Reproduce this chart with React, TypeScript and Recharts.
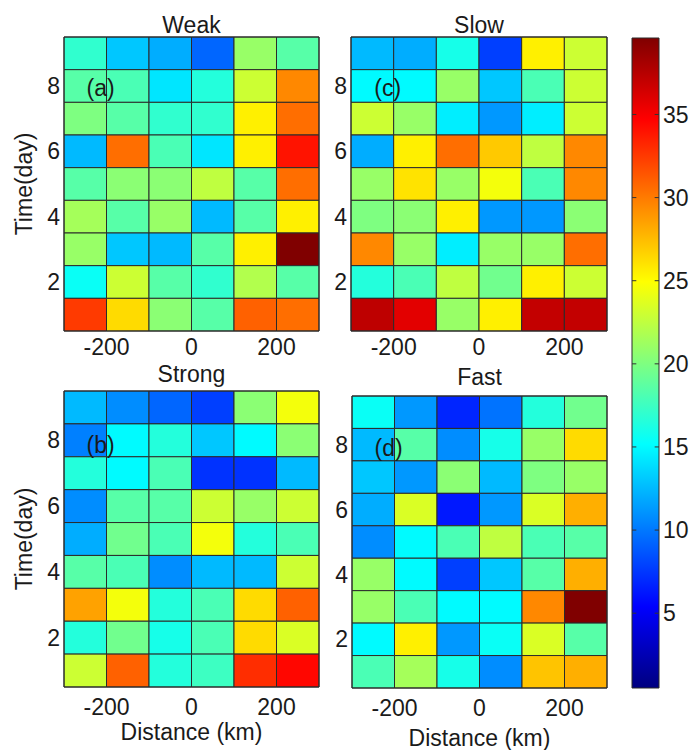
import React from 'react';
import {
  ScatterChart,
  Scatter,
  XAxis,
  YAxis,
  ReferenceArea,
  ReferenceDot,
  ReferenceLine,
  Label,
} from 'recharts';

// cell centres (km) and days
const distanceKm = [-250, -150, -50, 50, 150, 250];
const daysTopDown = [9, 8, 7, 6, 5, 4, 3, 2, 1];
const xTicks = [-200, 0, 200];
const yTicks = [2, 4, 6, 8];
const colorbarTicks = [5, 10, 15, 20, 25, 30, 35];

// rows go top (day 9) to bottom (day 1), columns -250 .. 250 km
const weakValues = [
  [17, 13, 12, 9.3, 21, 18.5],
  [18.5, 18, 14.2, 16.5, 23, 29.5],
  [20, 18.5, 17, 17, 25.5, 30.5],
  [12.5, 30.5, 18, 14.2, 25.5, 34],
  [18.5, 20.5, 20.5, 22.5, 18.5, 30.5],
  [21.5, 18.5, 21, 12.5, 18.5, 25.5],
  [21, 13, 12.5, 18.5, 25.5, 39.6],
  [15.5, 23, 18.5, 17, 22, 18.5],
  [32.5, 26.3, 20.5, 18.5, 31, 30.5],
];

const slowValues = [
  [12.5, 12, 16, 7.8, 25.5, 23],
  [15, 15, 21, 13, 18, 23],
  [23, 21, 14.5, 11.2, 14.5, 23],
  [12, 25.5, 30.5, 27, 22.5, 29.5],
  [21, 26, 21, 24.5, 18, 29.5],
  [20, 20.5, 25.5, 11.2, 11.2, 20.5],
  [29.5, 21, 14.5, 21, 21, 30.5],
  [16.5, 18, 22.5, 19.5, 25.5, 23],
  [37.2, 35.8, 21, 25.5, 37, 37],
];

const strongValues = [
  [12.5, 10.8, 9.3, 7.8, 20.5, 24.5],
  [10.3, 15, 16.5, 13, 15, 20.5],
  [16.5, 15, 18, 7.3, 7.3, 12.5],
  [10.8, 18.5, 18.5, 23, 21, 23],
  [12, 19.5, 18, 24.5, 16.5, 18],
  [18.5, 18, 10.8, 12.5, 12.5, 23],
  [28.5, 24.5, 16.5, 18, 26.3, 31],
  [16.5, 19.5, 16, 18, 26.3, 23.5],
  [23, 31, 16.5, 17.5, 33, 34.5],
];

const fastValues = [
  [15.5, 11.2, 6.8, 9.8, 16.5, 19.5],
  [12.5, 18.5, 10.8, 16, 21, 26.3],
  [13, 11.2, 20.5, 12.5, 20, 21],
  [12, 23.5, 6.3, 11.2, 23.5, 28],
  [10.8, 15, 18, 22.5, 18, 18.5],
  [21, 15, 7.8, 13, 18.5, 28],
  [21, 18, 15, 15, 29.5, 39.6],
  [15, 25.5, 11.2, 15.5, 23.5, 18.5],
  [18, 21.5, 16, 10.8, 27.2, 28],
];

const C_MIN = 0.5;
const C_MAX = 39.6;
const W = 693;
const H = 750;
const INK = '#1a1a1a';
const FONT = 23;
const AX_H = 30;
const AX_W = 40;

// matlab jet colormap
const jet = (v: number) => {
  const t = Math.min(1, Math.max(0, (v - C_MIN) / (C_MAX - C_MIN)));
  const ch = (d: number) => Math.round(255 * Math.min(1, Math.max(0, 1.5 - Math.abs(4 * t - d))));
  return `rgb(${ch(3)},${ch(2)},${ch(1)})`;
};

type Box = { x: number; y: number; w: number; h: number };

type PanelProps = {
  box: Box;
  values: number[][];
  title: string;
  titleGap: number;
  tag: string;
  tagY: number;
  tickGap: number;
  showYLabel?: boolean;
  xLabelOffset?: number;
};

const Panel = ({ box, values, title, titleGap, tag, tagY, tickGap, showYLabel, xLabelOffset }: PanelProps) => {
  const cells = values.flatMap((row, r) =>
    row.map((v, c) => ({ x: distanceKm[c], y: daysTopDown[r], v }))
  );
  const midY = box.y + box.h / 2;
  return (
    <div style={{ position: 'absolute', left: 0, top: 0 }}>
      <ScatterChart
        width={W}
        height={H}
        margin={{
          top: box.y,
          left: box.x - AX_W,
          right: W - box.x - box.w,
          bottom: H - box.y - box.h - AX_H,
        }}
      >
        <XAxis
          type="number"
          dataKey="x"
          domain={[-300, 300]}
          ticks={xTicks}
          interval={0}
          height={AX_H}
          axisLine={false}
          tickLine={false}
          tickSize={0}
          tickMargin={tickGap}
          tick={{ fill: INK, fontSize: FONT }}
        >
          {xLabelOffset !== undefined && (
            <Label value="Distance (km)" position="bottom" offset={xLabelOffset} fill={INK} fontSize={FONT} />
          )}
        </XAxis>
        <YAxis
          type="number"
          dataKey="y"
          domain={[0.5, 9.5]}
          ticks={yTicks}
          interval={0}
          width={AX_W}
          axisLine={false}
          tickLine={false}
          tickSize={0}
          tickMargin={4}
          tick={{ fill: INK, fontSize: FONT }}
        >
          {showYLabel && (
            <Label
              content={() => (
                <text
                  x={32}
                  y={midY}
                  transform={`rotate(-90, 32, ${midY})`}
                  textAnchor="middle"
                  fill={INK}
                  fontSize={FONT}
                >
                  Time(day)
                </text>
              )}
            />
          )}
        </YAxis>
        {cells.map((c) => (
          <ReferenceArea
            key={`${c.x}_${c.y}`}
            x1={c.x - 50}
            x2={c.x + 50}
            y1={c.y - 0.5}
            y2={c.y + 0.5}
            fill={jet(c.v)}
            fillOpacity={1}
            stroke="#2b2b2b"
            strokeWidth={1}
          />
        ))}
        <ReferenceArea
          x1={-300}
          x2={300}
          y1={0.5}
          y2={9.5}
          fill="none"
          stroke="#2b2b2b"
          strokeWidth={1}
          label={{ value: title, position: 'top', offset: titleGap, fill: INK, fontSize: FONT }}
        />
        <ReferenceDot
          x={-214}
          y={tagY}
          r={0}
          fill="none"
          stroke="none"
          label={{ value: tag, position: 'center', fill: INK, fontSize: FONT }}
        />
        <Scatter data={cells} isAnimationActive={false} shape={() => <g />} />
      </ScatterChart>
    </div>
  );
};

const ColorBar = () => {
  const box = { x: 632, y: 38, w: 27, h: 650 };
  const stops = [0, 0.125, 0.375, 0.625, 0.875, 1];
  const tickPts = colorbarTicks.map((t) => ({ x: 0.5, y: t }));
  return (
    <div style={{ position: 'absolute', left: 0, top: 0 }}>
      <ScatterChart
        width={W}
        height={H}
        margin={{ top: box.y, left: box.x, right: W - box.x - box.w - 30, bottom: H - box.y - box.h }}
      >
        <defs>
          <linearGradient id="jetBar" x1="0" y1="1" x2="0" y2="0">
            {stops.map((s) => (
              <stop key={s} offset={s} stopColor={jet(C_MIN + s * (C_MAX - C_MIN))} />
            ))}
          </linearGradient>
        </defs>
        <XAxis type="number" dataKey="x" domain={[0, 1]} hide />
        <YAxis
          type="number"
          dataKey="y"
          orientation="right"
          domain={[C_MIN, C_MAX]}
          ticks={colorbarTicks}
          interval={0}
          width={30}
          axisLine={false}
          tickLine={false}
          tickSize={0}
          tickMargin={4}
          tick={{ fill: INK, fontSize: FONT }}
        />
        <ReferenceArea
          x1={0}
          x2={1}
          y1={C_MIN}
          y2={C_MAX}
          fill="url(#jetBar)"
          fillOpacity={1}
          stroke="#2b2b2b"
          strokeWidth={1}
        />
        {colorbarTicks.map((t) => (
          <ReferenceLine
            key={`l${t}`}
            segment={[{ x: 0, y: t }, { x: 0.16, y: t }]}
            stroke="#333"
            strokeWidth={1}
          />
        ))}
        {colorbarTicks.map((t) => (
          <ReferenceLine
            key={`r${t}`}
            segment={[{ x: 0.84, y: t }, { x: 1, y: t }]}
            stroke="#333"
            strokeWidth={1}
          />
        ))}
        <Scatter data={tickPts} isAnimationActive={false} shape={() => <g />} />
      </ScatterChart>
    </div>
  );
}

export default function App() {
  return (
    <div
      style={{
        position: 'absolute',
        left: 0,
        top: 0,
        width: W,
        height: H,
        background: '#fff',
        fontFamily: '"Liberation Sans", Arial, sans-serif',
      }}
    >
      <Panel box={{ x: 64, y: 37, w: 255, h: 294 }} values={weakValues} title="Weak" titleGap={4} tag="(a)" tagY={7.95} tickGap={8} showYLabel />
      <Panel box={{ x: 351, y: 37, w: 256, h: 294 }} values={slowValues} title="Slow" titleGap={4} tag="(c)" tagY={7.95} tickGap={8} />
      <Panel
        box={{ x: 64, y: 391, w: 255, h: 296 }}
        values={strongValues}
        title="Strong"
        titleGap={9}
        tag="(b)"
        tagY={7.85}
        tickGap={12}
        showYLabel
        xLabelOffset={7}
      />
      <Panel
        box={{ x: 352, y: 396, w: 255, h: 292 }}
        values={fastValues}
        title="Fast"
        titleGap={11}
        tag="(d)"
        tagY={7.9}
        tickGap={12}
        xLabelOffset={12}
      />
      <ColorBar />
    </div>
  );
}
